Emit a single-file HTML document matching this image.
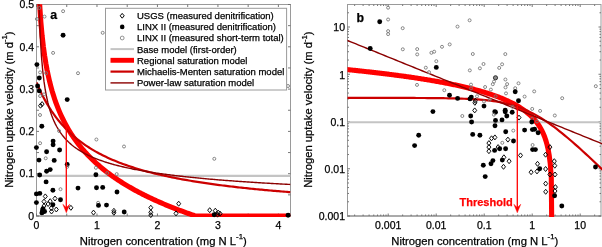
<!DOCTYPE html>
<html><head><meta charset="utf-8"><style>
html,body{margin:0;padding:0;background:#fff;}
svg{display:block;will-change:transform;}
text{stroke:#000;stroke-width:0.25px;}
</style></head><body>
<svg width="602" height="247" viewBox="0 0 602 247"><defs><clipPath id="ca"><rect x="36.5" y="4.2" width="254.0" height="212.8"/></clipPath>
<clipPath id="cb"><rect x="347.5" y="4.2" width="254.5" height="212.8"/></clipPath></defs>
<rect x="36.5" y="4.5" width="254.0" height="211.5" fill="none" stroke="#9a9a9a" stroke-width="1"/><line x1="36.0" y1="216.0" x2="291.0" y2="216.0" stroke="#8a8a8a" stroke-width="1.2"/>
<rect x="347.5" y="4.5" width="253.5" height="211.5" fill="none" stroke="#9a9a9a" stroke-width="1"/><line x1="347.0" y1="216.0" x2="601.5" y2="216.0" stroke="#8a8a8a" stroke-width="1.2"/>
<path d="M36.50,216.00 L36.50,213.50 M36.50,4.50 L36.50,7.00 M66.74,216.00 L66.74,213.50 M66.74,4.50 L66.74,7.00 M96.98,216.00 L96.98,213.50 M96.98,4.50 L96.98,7.00 M127.21,216.00 L127.21,213.50 M127.21,4.50 L127.21,7.00 M157.45,216.00 L157.45,213.50 M157.45,4.50 L157.45,7.00 M187.69,216.00 L187.69,213.50 M187.69,4.50 L187.69,7.00 M217.93,216.00 L217.93,213.50 M217.93,4.50 L217.93,7.00 M248.17,216.00 L248.17,213.50 M248.17,4.50 L248.17,7.00 M278.40,216.00 L278.40,213.50 M278.40,4.50 L278.40,7.00 M36.50,216.00 L39.00,216.00 M290.50,216.00 L288.00,216.00 M36.50,194.85 L39.00,194.85 M290.50,194.85 L288.00,194.85 M36.50,173.70 L39.00,173.70 M290.50,173.70 L288.00,173.70 M36.50,152.55 L39.00,152.55 M290.50,152.55 L288.00,152.55 M36.50,131.40 L39.00,131.40 M290.50,131.40 L288.00,131.40 M36.50,110.25 L39.00,110.25 M290.50,110.25 L288.00,110.25 M36.50,89.10 L39.00,89.10 M290.50,89.10 L288.00,89.10 M36.50,67.95 L39.00,67.95 M290.50,67.95 L288.00,67.95 M36.50,46.80 L39.00,46.80 M290.50,46.80 L288.00,46.80 M36.50,25.65 L39.00,25.65 M290.50,25.65 L288.00,25.65 M36.50,4.50 L39.00,4.50 M290.50,4.50 L288.00,4.50 M354.65,216.00 L354.65,214.50 M354.65,4.50 L354.65,6.00 M363.10,216.00 L363.10,214.50 M363.10,4.50 L363.10,6.00 M369.10,216.00 L369.10,214.50 M369.10,4.50 L369.10,6.00 M373.75,216.00 L373.75,214.50 M373.75,4.50 L373.75,6.00 M377.55,216.00 L377.55,214.50 M377.55,4.50 L377.55,6.00 M380.76,216.00 L380.76,214.50 M380.76,4.50 L380.76,6.00 M383.55,216.00 L383.55,214.50 M383.55,4.50 L383.55,6.00 M386.00,216.00 L386.00,214.50 M386.00,4.50 L386.00,6.00 M388.20,216.00 L388.20,213.50 M388.20,4.50 L388.20,7.00 M402.65,216.00 L402.65,214.50 M402.65,4.50 L402.65,6.00 M411.10,216.00 L411.10,214.50 M411.10,4.50 L411.10,6.00 M417.10,216.00 L417.10,214.50 M417.10,4.50 L417.10,6.00 M421.75,216.00 L421.75,214.50 M421.75,4.50 L421.75,6.00 M425.55,216.00 L425.55,214.50 M425.55,4.50 L425.55,6.00 M428.76,216.00 L428.76,214.50 M428.76,4.50 L428.76,6.00 M431.55,216.00 L431.55,214.50 M431.55,4.50 L431.55,6.00 M434.00,216.00 L434.00,214.50 M434.00,4.50 L434.00,6.00 M436.20,216.00 L436.20,213.50 M436.20,4.50 L436.20,7.00 M450.65,216.00 L450.65,214.50 M450.65,4.50 L450.65,6.00 M459.10,216.00 L459.10,214.50 M459.10,4.50 L459.10,6.00 M465.10,216.00 L465.10,214.50 M465.10,4.50 L465.10,6.00 M469.75,216.00 L469.75,214.50 M469.75,4.50 L469.75,6.00 M473.55,216.00 L473.55,214.50 M473.55,4.50 L473.55,6.00 M476.76,216.00 L476.76,214.50 M476.76,4.50 L476.76,6.00 M479.55,216.00 L479.55,214.50 M479.55,4.50 L479.55,6.00 M482.00,216.00 L482.00,214.50 M482.00,4.50 L482.00,6.00 M484.20,216.00 L484.20,213.50 M484.20,4.50 L484.20,7.00 M498.65,216.00 L498.65,214.50 M498.65,4.50 L498.65,6.00 M507.10,216.00 L507.10,214.50 M507.10,4.50 L507.10,6.00 M513.10,216.00 L513.10,214.50 M513.10,4.50 L513.10,6.00 M517.75,216.00 L517.75,214.50 M517.75,4.50 L517.75,6.00 M521.55,216.00 L521.55,214.50 M521.55,4.50 L521.55,6.00 M524.76,216.00 L524.76,214.50 M524.76,4.50 L524.76,6.00 M527.55,216.00 L527.55,214.50 M527.55,4.50 L527.55,6.00 M530.00,216.00 L530.00,214.50 M530.00,4.50 L530.00,6.00 M532.20,216.00 L532.20,213.50 M532.20,4.50 L532.20,7.00 M546.65,216.00 L546.65,214.50 M546.65,4.50 L546.65,6.00 M555.10,216.00 L555.10,214.50 M555.10,4.50 L555.10,6.00 M561.10,216.00 L561.10,214.50 M561.10,4.50 L561.10,6.00 M565.75,216.00 L565.75,214.50 M565.75,4.50 L565.75,6.00 M569.55,216.00 L569.55,214.50 M569.55,4.50 L569.55,6.00 M572.76,216.00 L572.76,214.50 M572.76,4.50 L572.76,6.00 M575.55,216.00 L575.55,214.50 M575.55,4.50 L575.55,6.00 M578.00,216.00 L578.00,214.50 M578.00,4.50 L578.00,6.00 M580.20,216.00 L580.20,213.50 M580.20,4.50 L580.20,7.00 M594.65,216.00 L594.65,214.50 M594.65,4.50 L594.65,6.00 M347.50,216.00 L350.00,216.00 M601.00,216.00 L598.50,216.00 M347.50,201.78 L349.00,201.78 M601.00,201.78 L599.50,201.78 M347.50,193.46 L349.00,193.46 M601.00,193.46 L599.50,193.46 M347.50,187.55 L349.00,187.55 M601.00,187.55 L599.50,187.55 M347.50,182.97 L349.00,182.97 M601.00,182.97 L599.50,182.97 M347.50,179.23 L349.00,179.23 M601.00,179.23 L599.50,179.23 M347.50,176.07 L349.00,176.07 M601.00,176.07 L599.50,176.07 M347.50,173.33 L349.00,173.33 M601.00,173.33 L599.50,173.33 M347.50,170.91 L349.00,170.91 M601.00,170.91 L599.50,170.91 M347.50,168.75 L350.00,168.75 M601.00,168.75 L598.50,168.75 M347.50,154.53 L349.00,154.53 M601.00,154.53 L599.50,154.53 M347.50,146.21 L349.00,146.21 M601.00,146.21 L599.50,146.21 M347.50,140.30 L349.00,140.30 M601.00,140.30 L599.50,140.30 M347.50,135.72 L349.00,135.72 M601.00,135.72 L599.50,135.72 M347.50,131.98 L349.00,131.98 M601.00,131.98 L599.50,131.98 M347.50,128.82 L349.00,128.82 M601.00,128.82 L599.50,128.82 M347.50,126.08 L349.00,126.08 M601.00,126.08 L599.50,126.08 M347.50,123.66 L349.00,123.66 M601.00,123.66 L599.50,123.66 M347.50,121.50 L350.00,121.50 M601.00,121.50 L598.50,121.50 M347.50,107.28 L349.00,107.28 M601.00,107.28 L599.50,107.28 M347.50,98.96 L349.00,98.96 M601.00,98.96 L599.50,98.96 M347.50,93.05 L349.00,93.05 M601.00,93.05 L599.50,93.05 M347.50,88.47 L349.00,88.47 M601.00,88.47 L599.50,88.47 M347.50,84.73 L349.00,84.73 M601.00,84.73 L599.50,84.73 M347.50,81.57 L349.00,81.57 M601.00,81.57 L599.50,81.57 M347.50,78.83 L349.00,78.83 M601.00,78.83 L599.50,78.83 M347.50,76.41 L349.00,76.41 M601.00,76.41 L599.50,76.41 M347.50,74.25 L350.00,74.25 M601.00,74.25 L598.50,74.25 M347.50,60.03 L349.00,60.03 M601.00,60.03 L599.50,60.03 M347.50,51.71 L349.00,51.71 M601.00,51.71 L599.50,51.71 M347.50,45.80 L349.00,45.80 M601.00,45.80 L599.50,45.80 M347.50,41.22 L349.00,41.22 M601.00,41.22 L599.50,41.22 M347.50,37.48 L349.00,37.48 M601.00,37.48 L599.50,37.48 M347.50,34.32 L349.00,34.32 M601.00,34.32 L599.50,34.32 M347.50,31.58 L349.00,31.58 M601.00,31.58 L599.50,31.58 M347.50,29.16 L349.00,29.16 M601.00,29.16 L599.50,29.16 M347.50,27.00 L350.00,27.00 M601.00,27.00 L598.50,27.00 M347.50,12.78 L349.00,12.78 M601.00,12.78 L599.50,12.78" stroke="#6a6a6a" stroke-width="0.9" fill="none"/>
<g clip-path="url(#ca)"><line x1="36.5" y1="175.90" x2="290.5" y2="175.90" stroke="#c4c4c4" stroke-width="2.1"/><path d="M38.31,-20.00 L39.58,3.35 L40.84,21.87 L42.10,35.63 L43.36,46.58 L44.62,55.67 L45.88,63.45 L47.14,70.25 L48.40,76.28 L49.66,81.71 L50.92,86.64 L52.18,91.16 L53.45,95.32 L54.71,99.19 L55.97,102.80 L57.23,106.18 L58.49,109.37 L59.75,112.37 L61.01,115.22 L62.27,117.92 L63.53,120.49 L64.79,122.95 L66.05,125.30 L67.32,127.55 L68.58,129.71 L69.84,131.79 L71.10,133.79 L72.36,135.72 L73.62,137.58 L74.88,139.38 L76.14,141.13 L77.40,142.81 L78.66,144.45 L79.92,146.04 L81.19,147.58 L82.45,149.08 L83.71,150.54 L84.97,151.96 L86.23,153.34 L87.49,154.69 L88.75,156.01 L90.01,157.29 L91.27,158.55 L92.53,159.78 L93.80,160.97 L95.06,162.15 L96.32,163.30 L97.58,164.42 L98.84,165.52 L100.10,166.60 L101.36,167.66 L102.62,168.70 L103.88,169.71 L105.14,170.71 L106.40,171.69 L107.67,172.66 L108.93,173.60 L110.19,174.53 L111.45,175.45 L112.71,176.35 L113.97,177.23 L115.23,178.10 L116.49,178.96 L117.75,179.80 L119.01,180.63 L120.27,181.45 L121.54,182.25 L122.80,183.05 L124.06,183.83 L125.32,184.60 L126.58,185.36 L127.84,186.11 L129.10,186.85 L130.36,187.58 L131.62,188.29 L132.88,189.00 L134.14,189.70 L135.41,190.40 L136.67,191.08 L137.93,191.75 L139.19,192.42 L140.45,193.08 L141.71,193.73 L142.97,194.37 L144.23,195.00 L145.49,195.63 L146.75,196.25 L148.02,196.86 L149.28,197.47 L150.54,198.07 L151.80,198.66 L153.06,199.25 L154.32,199.83 L155.58,200.40 L156.84,200.97 L158.10,201.53 L159.36,202.09 L160.62,202.64 L161.89,203.18 L163.15,203.72 L164.41,204.25 L165.67,204.78 L166.93,205.31 L168.19,205.82 L169.45,206.34 L170.71,206.85 L171.97,207.35 L173.23,207.85 L174.49,208.34 L175.76,208.83 L177.02,209.32 L178.28,209.80 L179.54,210.28 L180.80,210.75 L182.06,211.22 L183.32,211.69 L184.58,212.15 L185.84,212.60 L187.10,213.06 L188.36,213.51 L189.63,213.95 L190.89,214.39 L192.15,214.83 L193.41,215.27 L194.67,215.70 L195.93,216.00 L197.19,216.00 L198.45,216.00 L199.71,216.00 L200.97,216.00 L202.23,216.00 L203.50,216.00 L204.76,216.00 L206.02,216.00 L207.28,216.00 L208.54,216.00 L209.80,216.00 L211.06,216.00 L212.32,216.00 L213.58,216.00 L214.84,216.00 L216.11,216.00 L217.37,216.00 L218.63,216.00 L219.89,216.00 L221.15,216.00 L222.41,216.00 L223.67,216.00 L224.93,216.00 L226.19,216.00 L227.45,216.00 L228.71,216.00 L229.98,216.00 L231.24,216.00 L232.50,216.00 L233.76,216.00 L235.02,216.00 L236.28,216.00 L237.54,216.00 L238.80,216.00 L240.06,216.00 L241.32,216.00 L242.58,216.00 L243.85,216.00 L245.11,216.00 L246.37,216.00 L247.63,216.00 L248.89,216.00 L250.15,216.00 L251.41,216.00 L252.67,216.00 L253.93,216.00 L255.19,216.00 L256.45,216.00 L257.72,216.00 L258.98,216.00 L260.24,216.00 L261.50,216.00 L262.76,216.00 L264.02,216.00 L265.28,216.00 L266.54,216.00 L267.80,216.00 L269.06,216.00 L270.33,216.00 L271.59,216.00 L272.85,216.00 L274.11,216.00 L275.37,216.00 L276.63,216.00 L277.89,216.00 L279.15,216.00 L280.41,216.00 L281.67,216.00 L282.93,216.00 L284.20,216.00 L285.46,216.00 L286.72,216.00 L287.98,216.00 L289.24,216.00 L290.50,216.00" fill="none" stroke="#ff0000" stroke-width="5.1" stroke-linejoin="round"/><path d="M36.50,82.32 L38.19,86.30 L39.89,90.06 L41.58,93.60 L43.27,96.95 L44.97,100.12 L46.66,103.13 L48.35,105.98 L50.05,108.69 L51.74,111.28 L53.43,113.74 L55.13,116.09 L56.82,118.33 L58.51,120.47 L60.21,122.53 L61.90,124.49 L63.59,126.38 L65.29,128.19 L66.98,129.92 L68.67,131.59 L70.37,133.20 L72.06,134.75 L73.75,136.24 L75.45,137.67 L77.14,139.06 L78.83,140.39 L80.53,141.69 L82.22,142.93 L83.91,144.14 L85.61,145.31 L87.30,146.44 L88.99,147.53 L90.69,148.59 L92.38,149.62 L94.07,150.62 L95.77,151.59 L97.46,152.53 L99.15,153.44 L100.85,154.33 L102.54,155.19 L104.23,156.03 L105.93,156.84 L107.62,157.64 L109.31,158.41 L111.01,159.16 L112.70,159.89 L114.39,160.61 L116.09,161.30 L117.78,161.98 L119.47,162.65 L121.17,163.29 L122.86,163.92 L124.55,164.54 L126.25,165.14 L127.94,165.73 L129.63,166.30 L131.33,166.86 L133.02,167.41 L134.71,167.95 L136.41,168.47 L138.10,168.99 L139.79,169.49 L141.49,169.98 L143.18,170.46 L144.87,170.94 L146.57,171.40 L148.26,171.85 L149.95,172.29 L151.65,172.73 L153.34,173.15 L155.03,173.57 L156.73,173.98 L158.42,174.38 L160.11,174.78 L161.81,175.16 L163.50,175.54 L165.19,175.92 L166.89,176.28 L168.58,176.64 L170.27,177.00 L171.97,177.34 L173.66,177.68 L175.35,178.02 L177.05,178.35 L178.74,178.67 L180.43,178.99 L182.13,179.30 L183.82,179.61 L185.51,179.91 L187.21,180.20 L188.90,180.50 L190.59,180.78 L192.29,181.07 L193.98,181.34 L195.67,181.62 L197.37,181.89 L199.06,182.15 L200.75,182.41 L202.45,182.67 L204.14,182.93 L205.83,183.17 L207.53,183.42 L209.22,183.66 L210.91,183.90 L212.61,184.14 L214.30,184.37 L215.99,184.60 L217.69,184.82 L219.38,185.04 L221.07,185.26 L222.77,185.48 L224.46,185.69 L226.15,185.90 L227.85,186.11 L229.54,186.31 L231.23,186.51 L232.93,186.71 L234.62,186.91 L236.31,187.10 L238.01,187.29 L239.70,187.48 L241.39,187.66 L243.09,187.85 L244.78,188.03 L246.47,188.21 L248.17,188.38 L249.86,188.56 L251.55,188.73 L253.25,188.90 L254.94,189.07 L256.63,189.23 L258.33,189.40 L260.02,189.56 L261.71,189.72 L263.41,189.88 L265.10,190.03 L266.79,190.19 L268.49,190.34 L270.18,190.49 L271.87,190.64 L273.57,190.78 L275.26,190.93 L276.95,191.07 L278.65,191.22 L280.34,191.36 L282.03,191.49 L283.73,191.63 L285.42,191.77 L287.11,191.90 L288.81,192.03 L290.50,192.17" fill="none" stroke="#cc0000" stroke-width="2.2"/><path d="M37.71,-20.00 L38.97,3.50 L40.24,36.73 L41.50,57.01 L42.77,71.10 L44.03,81.67 L45.29,89.99 L46.56,96.77 L47.82,102.45 L49.09,107.29 L50.35,111.50 L51.61,115.19 L52.88,118.47 L54.14,121.41 L55.40,124.07 L56.67,126.49 L57.93,128.70 L59.20,130.74 L60.46,132.62 L61.72,134.37 L62.99,136.00 L64.25,137.52 L65.52,138.95 L66.78,140.29 L68.04,141.55 L69.31,142.75 L70.57,143.88 L71.84,144.96 L73.10,145.98 L74.36,146.95 L75.63,147.88 L76.89,148.76 L78.16,149.61 L79.42,150.42 L80.68,151.20 L81.95,151.95 L83.21,152.67 L84.48,153.36 L85.74,154.03 L87.00,154.68 L88.27,155.30 L89.53,155.90 L90.80,156.48 L92.06,157.04 L93.32,157.58 L94.59,158.11 L95.85,158.62 L97.12,159.12 L98.38,159.60 L99.64,160.07 L100.91,160.52 L102.17,160.96 L103.44,161.40 L104.70,161.81 L105.96,162.22 L107.23,162.62 L108.49,163.01 L109.75,163.39 L111.02,163.76 L112.28,164.12 L113.55,164.47 L114.81,164.81 L116.07,165.15 L117.34,165.48 L118.60,165.80 L119.87,166.12 L121.13,166.43 L122.39,166.73 L123.66,167.02 L124.92,167.31 L126.19,167.60 L127.45,167.87 L128.71,168.15 L129.98,168.42 L131.24,168.68 L132.51,168.94 L133.77,169.19 L135.03,169.44 L136.30,169.68 L137.56,169.92 L138.83,170.16 L140.09,170.39 L141.35,170.61 L142.62,170.84 L143.88,171.06 L145.15,171.27 L146.41,171.49 L147.67,171.70 L148.94,171.90 L150.20,172.10 L151.47,172.30 L152.73,172.50 L153.99,172.69 L155.26,172.88 L156.52,173.07 L157.79,173.26 L159.05,173.44 L160.31,173.62 L161.58,173.80 L162.84,173.97 L164.10,174.14 L165.37,174.31 L166.63,174.48 L167.90,174.64 L169.16,174.81 L170.42,174.97 L171.69,175.13 L172.95,175.28 L174.22,175.44 L175.48,175.59 L176.74,175.74 L178.01,175.89 L179.27,176.03 L180.54,176.18 L181.80,176.32 L183.06,176.46 L184.33,176.60 L185.59,176.74 L186.86,176.88 L188.12,177.01 L189.38,177.15 L190.65,177.28 L191.91,177.41 L193.18,177.54 L194.44,177.66 L195.70,177.79 L196.97,177.91 L198.23,178.04 L199.50,178.16 L200.76,178.28 L202.02,178.40 L203.29,178.51 L204.55,178.63 L205.82,178.75 L207.08,178.86 L208.34,178.97 L209.61,179.08 L210.87,179.19 L212.13,179.30 L213.40,179.41 L214.66,179.52 L215.93,179.63 L217.19,179.73 L218.45,179.83 L219.72,179.94 L220.98,180.04 L222.25,180.14 L223.51,180.24 L224.77,180.34 L226.04,180.44 L227.30,180.54 L228.57,180.63 L229.83,180.73 L231.09,180.82 L232.36,180.92 L233.62,181.01 L234.89,181.10 L236.15,181.19 L237.41,181.28 L238.68,181.37 L239.94,181.46 L241.21,181.55 L242.47,181.64 L243.73,181.72 L245.00,181.81 L246.26,181.89 L247.53,181.98 L248.79,182.06 L250.05,182.14 L251.32,182.23 L252.58,182.31 L253.85,182.39 L255.11,182.47 L256.37,182.55 L257.64,182.63 L258.90,182.71 L260.17,182.78 L261.43,182.86 L262.69,182.94 L263.96,183.01 L265.22,183.09 L266.48,183.16 L267.75,183.24 L269.01,183.31 L270.28,183.38 L271.54,183.45 L272.80,183.53 L274.07,183.60 L275.33,183.67 L276.60,183.74 L277.86,183.81 L279.12,183.88 L280.39,183.95 L281.65,184.01 L282.92,184.08 L284.18,184.15 L285.44,184.22 L286.71,184.28 L287.97,184.35 L289.24,184.41 L290.50,184.48" fill="none" stroke="#8b0000" stroke-width="1.4"/></g><g fill="#000"><circle cx="39.3" cy="8.0" r="1.5" fill="none" stroke="#7a7a7a" stroke-width="0.9"/><circle cx="44.5" cy="16.6" r="1.5" fill="none" stroke="#7a7a7a" stroke-width="0.9"/><circle cx="36.9" cy="19.0" r="1.5" fill="none" stroke="#7a7a7a" stroke-width="0.9"/><circle cx="63.1" cy="11.2" r="1.5" fill="none" stroke="#7a7a7a" stroke-width="0.9"/><circle cx="63.1" cy="35.2" r="2.45"/><circle cx="53.1" cy="52.9" r="1.5" fill="none" stroke="#7a7a7a" stroke-width="0.9"/><circle cx="36.9" cy="64.6" r="2.45"/><circle cx="40.1" cy="72.4" r="1.5" fill="none" stroke="#7a7a7a" stroke-width="0.9"/><circle cx="46.1" cy="73.2" r="1.5" fill="none" stroke="#7a7a7a" stroke-width="0.9"/><circle cx="78.0" cy="73.2" r="1.5" fill="none" stroke="#7a7a7a" stroke-width="0.9"/><circle cx="102.7" cy="32.8" r="1.5" fill="none" stroke="#7a7a7a" stroke-width="0.9"/><circle cx="39.3" cy="78.0" r="2.45"/><circle cx="37.6" cy="86.0" r="2.45"/><circle cx="39.3" cy="90.9" r="2.45"/><circle cx="40.1" cy="96.0" r="1.5" fill="none" stroke="#7a7a7a" stroke-width="0.9"/><circle cx="44.0" cy="94.4" r="1.5" fill="none" stroke="#7a7a7a" stroke-width="0.9"/><circle cx="67.2" cy="99.6" r="2.45"/><path d="M40.5,103.2l2.0,2.5l-2.0,2.5l-2.0,-2.5z" fill="none" stroke="#000" stroke-width="0.95"/><path d="M42.1,101.6l2.0,2.5l-2.0,2.5l-2.0,-2.5z" fill="none" stroke="#000" stroke-width="0.95"/><circle cx="40.0" cy="115.0" r="1.5" fill="none" stroke="#7a7a7a" stroke-width="0.9"/><circle cx="41.8" cy="126.2" r="2.45"/><circle cx="59.1" cy="131.0" r="1.5" fill="none" stroke="#7a7a7a" stroke-width="0.9"/><circle cx="40.1" cy="143.2" r="1.5" fill="none" stroke="#7a7a7a" stroke-width="0.9"/><circle cx="53.1" cy="141.1" r="2.45"/><circle cx="53.1" cy="144.8" r="2.45"/><circle cx="36.4" cy="147.6" r="2.45"/><circle cx="59.6" cy="150.0" r="2.45"/><circle cx="46.6" cy="151.8" r="2.45"/><circle cx="45.7" cy="158.3" r="1.5" fill="none" stroke="#7a7a7a" stroke-width="0.9"/><circle cx="39.0" cy="160.1" r="2.45"/><circle cx="54.2" cy="160.4" r="2.45"/><circle cx="67.2" cy="164.4" r="2.45"/><circle cx="67.2" cy="166.8" r="1.5" fill="none" stroke="#7a7a7a" stroke-width="0.9"/><circle cx="50.2" cy="169.6" r="2.45"/><circle cx="46.6" cy="171.2" r="2.45"/><circle cx="39.7" cy="175.0" r="2.45"/><circle cx="46.1" cy="181.9" r="2.45"/><circle cx="60.5" cy="189.2" r="1.5" fill="none" stroke="#7a7a7a" stroke-width="0.9"/><circle cx="52.9" cy="190.2" r="2.45"/><circle cx="78.0" cy="188.1" r="2.45"/><circle cx="36.4" cy="193.9" r="2.45"/><circle cx="39.8" cy="193.4" r="2.45"/><path d="M45.3,193.9l2.0,2.5l-2.0,2.5l-2.0,-2.5z" fill="none" stroke="#000" stroke-width="0.95"/><path d="M55.0,196.0l2.0,2.5l-2.0,2.5l-2.0,-2.5z" fill="none" stroke="#000" stroke-width="0.95"/><circle cx="60.5" cy="199.8" r="2.45"/><circle cx="36.4" cy="202.6" r="2.45"/><path d="M44.0,199.1l2.0,2.5l-2.0,2.5l-2.0,-2.5z" fill="none" stroke="#000" stroke-width="0.95"/><path d="M50.2,198.7l2.0,2.5l-2.0,2.5l-2.0,-2.5z" fill="none" stroke="#000" stroke-width="0.95"/><path d="M48.1,201.5l2.0,2.5l-2.0,2.5l-2.0,-2.5z" fill="none" stroke="#000" stroke-width="0.95"/><circle cx="52.9" cy="204.7" r="2.45"/><path d="M44.0,203.5l2.0,2.5l-2.0,2.5l-2.0,-2.5z" fill="none" stroke="#000" stroke-width="0.95"/><path d="M51.3,205.6l2.0,2.5l-2.0,2.5l-2.0,-2.5z" fill="none" stroke="#000" stroke-width="0.95"/><path d="M56.3,207.0l2.0,2.5l-2.0,2.5l-2.0,-2.5z" fill="none" stroke="#000" stroke-width="0.95"/><path d="M51.5,209.0l2.0,2.5l-2.0,2.5l-2.0,-2.5z" fill="none" stroke="#000" stroke-width="0.95"/><circle cx="42.6" cy="210.2" r="2.45"/><circle cx="41.9" cy="212.9" r="2.45"/><circle cx="44.6" cy="211.5" r="2.45"/><circle cx="43.0" cy="208.8" r="2.45"/><path d="M70.9,205.3l2.0,2.5l-2.0,2.5l-2.0,-2.5z" fill="none" stroke="#000" stroke-width="0.95"/><circle cx="96.4" cy="139.5" r="1.5" fill="none" stroke="#7a7a7a" stroke-width="0.9"/><circle cx="124.0" cy="146.5" r="1.5" fill="none" stroke="#7a7a7a" stroke-width="0.9"/><circle cx="95.9" cy="167.8" r="1.5" fill="none" stroke="#7a7a7a" stroke-width="0.9"/><circle cx="107.2" cy="173.1" r="1.5" fill="none" stroke="#7a7a7a" stroke-width="0.9"/><circle cx="116.7" cy="174.1" r="1.5" fill="none" stroke="#7a7a7a" stroke-width="0.9"/><circle cx="95.9" cy="174.7" r="2.45"/><circle cx="96.5" cy="187.7" r="2.45"/><circle cx="102.7" cy="187.4" r="2.45"/><circle cx="117.0" cy="192.0" r="2.45"/><circle cx="98.1" cy="202.8" r="1.5" fill="none" stroke="#7a7a7a" stroke-width="0.9"/><circle cx="98.5" cy="205.4" r="2.45"/><circle cx="106.5" cy="205.1" r="2.45"/><path d="M93.5,210.1l2.0,2.5l-2.0,2.5l-2.0,-2.5z" fill="none" stroke="#000" stroke-width="0.95"/><path d="M113.9,208.3l2.0,2.5l-2.0,2.5l-2.0,-2.5z" fill="none" stroke="#000" stroke-width="0.95"/><path d="M113.9,210.3l2.0,2.5l-2.0,2.5l-2.0,-2.5z" fill="none" stroke="#000" stroke-width="0.95"/><circle cx="124.2" cy="212.0" r="2.45"/><path d="M150.8,205.2l2.0,2.5l-2.0,2.5l-2.0,-2.5z" fill="none" stroke="#000" stroke-width="0.95"/><path d="M150.8,209.8l2.0,2.5l-2.0,2.5l-2.0,-2.5z" fill="none" stroke="#000" stroke-width="0.95"/><path d="M150.8,212.6l2.0,2.5l-2.0,2.5l-2.0,-2.5z" fill="none" stroke="#000" stroke-width="0.95"/><circle cx="214.3" cy="158.8" r="1.5" fill="none" stroke="#7a7a7a" stroke-width="0.9"/><path d="M178.7,201.2l2.0,2.5l-2.0,2.5l-2.0,-2.5z" fill="none" stroke="#000" stroke-width="0.95"/><path d="M176.0,210.9l2.0,2.5l-2.0,2.5l-2.0,-2.5z" fill="none" stroke="#000" stroke-width="0.95"/><path d="M209.7,207.7l2.0,2.5l-2.0,2.5l-2.0,-2.5z" fill="none" stroke="#000" stroke-width="0.95"/><path d="M215.3,208.2l2.0,2.5l-2.0,2.5l-2.0,-2.5z" fill="none" stroke="#000" stroke-width="0.95"/><path d="M218.3,210.2l2.0,2.5l-2.0,2.5l-2.0,-2.5z" fill="none" stroke="#000" stroke-width="0.95"/><path d="M220.1,211.2l2.0,2.5l-2.0,2.5l-2.0,-2.5z" fill="none" stroke="#000" stroke-width="0.95"/><path d="M217.5,212.2l2.0,2.5l-2.0,2.5l-2.0,-2.5z" fill="none" stroke="#000" stroke-width="0.95"/><circle cx="214.2" cy="214.7" r="2.45"/><circle cx="288.1" cy="215.3" r="2.45"/><circle cx="288.0" cy="86.0" r="1.5" fill="none" stroke="#7a7a7a" stroke-width="0.9"/></g>
<g clip-path="url(#cb)"><line x1="347.5" y1="122.30" x2="601.0" y2="122.30" stroke="#c4c4c4" stroke-width="2.1"/><path d="M340.20,68.92 L341.26,69.02 L342.32,69.13 L343.38,69.23 L344.44,69.33 L345.50,69.44 L346.56,69.54 L347.63,69.65 L348.69,69.76 L349.75,69.86 L350.81,69.97 L351.87,70.08 L352.93,70.19 L353.99,70.30 L355.05,70.41 L356.11,70.52 L357.17,70.63 L358.23,70.74 L359.29,70.86 L360.35,70.97 L361.42,71.08 L362.48,71.20 L363.54,71.31 L364.60,71.43 L365.66,71.54 L366.72,71.66 L367.78,71.78 L368.84,71.90 L369.90,72.01 L370.96,72.13 L372.02,72.25 L373.08,72.38 L374.14,72.50 L375.21,72.62 L376.27,72.74 L377.33,72.87 L378.39,72.99 L379.45,73.12 L380.51,73.24 L381.57,73.37 L382.63,73.50 L383.69,73.63 L384.75,73.76 L385.81,73.89 L386.87,74.02 L387.93,74.15 L389.00,74.28 L390.06,74.42 L391.12,74.55 L392.18,74.69 L393.24,74.82 L394.30,74.96 L395.36,75.10 L396.42,75.24 L397.48,75.38 L398.54,75.52 L399.60,75.66 L400.66,75.80 L401.73,75.95 L402.79,76.09 L403.85,76.24 L404.91,76.39 L405.97,76.53 L407.03,76.68 L408.09,76.83 L409.15,76.99 L410.21,77.14 L411.27,77.29 L412.33,77.45 L413.39,77.60 L414.45,77.76 L415.52,77.92 L416.58,78.08 L417.64,78.24 L418.70,78.40 L419.76,78.56 L420.82,78.73 L421.88,78.90 L422.94,79.06 L424.00,79.23 L425.06,79.40 L426.12,79.57 L427.18,79.75 L428.24,79.92 L429.31,80.10 L430.37,80.28 L431.43,80.45 L432.49,80.64 L433.55,80.82 L434.61,81.00 L435.67,81.19 L436.73,81.37 L437.79,81.56 L438.85,81.75 L439.91,81.95 L440.97,82.14 L442.03,82.34 L443.10,82.54 L444.16,82.74 L445.22,82.94 L446.28,83.14 L447.34,83.35 L448.40,83.56 L449.46,83.77 L450.52,83.98 L451.58,84.20 L452.64,84.41 L453.70,84.63 L454.76,84.85 L455.82,85.08 L456.89,85.31 L457.95,85.53 L459.01,85.77 L460.07,86.00 L461.13,86.24 L462.19,86.48 L463.25,86.72 L464.31,86.97 L465.37,87.22 L466.43,87.47 L467.49,87.72 L468.55,87.98 L469.61,88.24 L470.68,88.51 L471.74,88.77 L472.80,89.05 L473.86,89.32 L474.92,89.60 L475.98,89.88 L477.04,90.17 L478.10,90.46 L479.16,90.76 L480.22,91.06 L481.28,91.36 L482.34,91.67 L483.40,91.98 L484.47,92.30 L485.53,92.62 L486.59,92.95 L487.65,93.29 L488.71,93.63 L489.77,93.97 L490.83,94.32 L491.89,94.68 L492.95,95.04 L494.01,95.41 L495.07,95.79 L496.13,96.17 L497.19,96.56 L498.26,96.96 L499.32,97.37 L500.38,97.78 L501.44,98.20 L502.50,98.64 L503.56,99.08 L504.62,99.53 L505.68,99.99 L506.74,100.46 L507.80,100.94 L508.86,101.44 L509.92,101.94 L510.98,102.46 L512.05,103.00 L513.11,103.54 L514.17,104.11 L515.23,104.68 L516.29,105.28 L517.35,105.89 L518.41,106.52 L519.47,107.17 L520.53,107.85 L521.59,108.54 L522.65,109.26 L523.71,110.01 L524.78,110.78 L525.84,111.59 L526.90,112.43 L527.96,113.30 L529.02,114.21 L530.08,115.17 L531.14,116.17 L532.20,117.22 L533.26,118.33 L534.32,119.50 L535.38,120.74 L536.44,122.07 L537.50,123.48 L538.57,125.00 L539.63,126.65 L540.69,128.43 L541.75,130.39 L542.81,132.55 L543.87,134.96 L544.93,137.70 L545.99,140.86 L547.05,144.60 L548.11,149.18 L549.17,155.08 L550.23,163.38 L551.29,177.57 L552.36,293.76 L552.36,260.00" fill="none" stroke="#ff0000" stroke-width="5.1" stroke-linejoin="round"/><path d="M340.20,97.89 L342.84,97.89 L345.48,97.89 L348.12,97.89 L350.76,97.89 L353.40,97.89 L356.04,97.89 L358.68,97.89 L361.32,97.89 L363.96,97.89 L366.60,97.90 L369.24,97.90 L371.88,97.90 L374.52,97.90 L377.16,97.90 L379.80,97.90 L382.44,97.90 L385.08,97.91 L387.72,97.91 L390.36,97.91 L393.00,97.92 L395.64,97.92 L398.28,97.92 L400.92,97.93 L403.56,97.93 L406.20,97.94 L408.84,97.95 L411.48,97.96 L414.12,97.97 L416.76,97.98 L419.40,97.99 L422.04,98.00 L424.68,98.02 L427.32,98.03 L429.96,98.05 L432.60,98.08 L435.24,98.10 L437.88,98.13 L440.52,98.16 L443.16,98.20 L445.80,98.24 L448.44,98.29 L451.08,98.34 L453.72,98.40 L456.36,98.47 L459.00,98.55 L461.64,98.64 L464.28,98.74 L466.92,98.85 L469.56,98.97 L472.20,99.12 L474.84,99.28 L477.48,99.46 L480.12,99.66 L482.76,99.89 L485.40,100.14 L488.04,100.43 L490.68,100.75 L493.32,101.11 L495.96,101.51 L498.60,101.95 L501.24,102.44 L503.88,102.99 L506.52,103.59 L509.16,104.25 L511.80,104.97 L514.44,105.77 L517.08,106.63 L519.72,107.57 L522.36,108.59 L525.00,109.68 L527.64,110.86 L530.28,112.12 L532.92,113.46 L535.56,114.88 L538.20,116.39 L540.84,117.97 L543.48,119.63 L546.12,121.37 L548.76,123.17 L551.40,125.05 L554.04,126.98 L556.68,128.98 L559.32,131.04 L561.96,133.15 L564.60,135.30 L567.24,137.50 L569.88,139.74 L572.52,142.02 L575.16,144.34 L577.80,146.68 L580.44,149.05 L583.08,151.45 L585.72,153.86 L588.36,156.30 L591.00,158.76 L593.64,161.23 L596.28,163.72 L598.92,166.22 L601.56,168.73 L604.20,171.25" fill="none" stroke="#cc0000" stroke-width="2.2"/><path d="M340.20,37.53 L342.84,38.61 L345.48,39.68 L348.12,40.75 L350.76,41.82 L353.40,42.89 L356.04,43.96 L358.68,45.03 L361.32,46.10 L363.96,47.17 L366.60,48.24 L369.24,49.31 L371.88,50.38 L374.52,51.45 L377.16,52.52 L379.80,53.59 L382.44,54.67 L385.08,55.74 L387.72,56.81 L390.36,57.88 L393.00,58.95 L395.64,60.02 L398.28,61.09 L400.92,62.16 L403.56,63.23 L406.20,64.30 L408.84,65.37 L411.48,66.44 L414.12,67.51 L416.76,68.58 L419.40,69.66 L422.04,70.73 L424.68,71.80 L427.32,72.87 L429.96,73.94 L432.60,75.01 L435.24,76.08 L437.88,77.15 L440.52,78.22 L443.16,79.29 L445.80,80.36 L448.44,81.43 L451.08,82.50 L453.72,83.57 L456.36,84.64 L459.00,85.72 L461.64,86.79 L464.28,87.86 L466.92,88.93 L469.56,90.00 L472.20,91.07 L474.84,92.14 L477.48,93.21 L480.12,94.28 L482.76,95.35 L485.40,96.42 L488.04,97.49 L490.68,98.56 L493.32,99.63 L495.96,100.71 L498.60,101.78 L501.24,102.85 L503.88,103.92 L506.52,104.99 L509.16,106.06 L511.80,107.13 L514.44,108.20 L517.08,109.27 L519.72,110.34 L522.36,111.41 L525.00,112.48 L527.64,113.55 L530.28,114.62 L532.92,115.69 L535.56,116.77 L538.20,117.84 L540.84,118.91 L543.48,119.98 L546.12,121.05 L548.76,122.12 L551.40,123.19 L554.04,124.26 L556.68,125.33 L559.32,126.40 L561.96,127.47 L564.60,128.54 L567.24,129.61 L569.88,130.68 L572.52,131.75 L575.16,132.83 L577.80,133.90 L580.44,134.97 L583.08,136.04 L585.72,137.11 L588.36,138.18 L591.00,139.25 L593.64,140.32 L596.28,141.39 L598.92,142.46 L601.56,143.53 L604.20,144.60" fill="none" stroke="#8b0000" stroke-width="1.4"/></g><g fill="#000"><circle cx="388.1" cy="7.7" r="1.5" fill="none" stroke="#7a7a7a" stroke-width="0.9"/><circle cx="388.1" cy="19.5" r="1.5" fill="none" stroke="#7a7a7a" stroke-width="0.9"/><circle cx="379.7" cy="21.8" r="2.45"/><circle cx="402.7" cy="28.2" r="1.5" fill="none" stroke="#7a7a7a" stroke-width="0.9"/><circle cx="388.1" cy="31.1" r="1.5" fill="none" stroke="#7a7a7a" stroke-width="0.9"/><circle cx="388.1" cy="34.1" r="1.5" fill="none" stroke="#7a7a7a" stroke-width="0.9"/><circle cx="370.2" cy="48.5" r="2.45"/><circle cx="402.8" cy="49.3" r="1.5" fill="none" stroke="#7a7a7a" stroke-width="0.9"/><circle cx="417.2" cy="49.1" r="1.5" fill="none" stroke="#7a7a7a" stroke-width="0.9"/><circle cx="417.2" cy="54.4" r="1.5" fill="none" stroke="#7a7a7a" stroke-width="0.9"/><circle cx="431.4" cy="52.8" r="1.5" fill="none" stroke="#7a7a7a" stroke-width="0.9"/><circle cx="434.2" cy="51.7" r="1.5" fill="none" stroke="#7a7a7a" stroke-width="0.9"/><circle cx="442.0" cy="46.8" r="1.5" fill="none" stroke="#7a7a7a" stroke-width="0.9"/><circle cx="449.7" cy="44.4" r="1.5" fill="none" stroke="#7a7a7a" stroke-width="0.9"/><circle cx="457.5" cy="26.6" r="1.5" fill="none" stroke="#7a7a7a" stroke-width="0.9"/><circle cx="469.6" cy="20.3" r="1.5" fill="none" stroke="#7a7a7a" stroke-width="0.9"/><circle cx="472.8" cy="54.0" r="1.5" fill="none" stroke="#7a7a7a" stroke-width="0.9"/><circle cx="505.3" cy="54.1" r="1.5" fill="none" stroke="#7a7a7a" stroke-width="0.9"/><circle cx="483.5" cy="64.0" r="1.5" fill="none" stroke="#7a7a7a" stroke-width="0.9"/><circle cx="479.9" cy="68.3" r="1.5" fill="none" stroke="#7a7a7a" stroke-width="0.9"/><circle cx="469.8" cy="70.4" r="1.5" fill="none" stroke="#7a7a7a" stroke-width="0.9"/><circle cx="502.1" cy="64.3" r="1.5" fill="none" stroke="#7a7a7a" stroke-width="0.9"/><circle cx="499.2" cy="67.9" r="1.5" fill="none" stroke="#7a7a7a" stroke-width="0.9"/><circle cx="436.3" cy="61.2" r="1.5" fill="none" stroke="#7a7a7a" stroke-width="0.9"/><circle cx="436.3" cy="67.4" r="2.45"/><circle cx="425.8" cy="67.7" r="1.5" fill="none" stroke="#7a7a7a" stroke-width="0.9"/><circle cx="429.0" cy="72.2" r="1.5" fill="none" stroke="#7a7a7a" stroke-width="0.9"/><circle cx="495.5" cy="77.8" r="2.1" fill="#888" stroke="#222" stroke-width="0.9"/><circle cx="505.4" cy="79.5" r="1.5" fill="none" stroke="#7a7a7a" stroke-width="0.9"/><circle cx="417.0" cy="84.9" r="1.5" fill="none" stroke="#7a7a7a" stroke-width="0.9"/><circle cx="494.0" cy="81.6" r="1.5" fill="none" stroke="#7a7a7a" stroke-width="0.9"/><circle cx="492.8" cy="84.2" r="1.5" fill="none" stroke="#7a7a7a" stroke-width="0.9"/><circle cx="471.0" cy="84.6" r="1.5" fill="none" stroke="#7a7a7a" stroke-width="0.9"/><circle cx="471.0" cy="88.4" r="1.5" fill="none" stroke="#7a7a7a" stroke-width="0.9"/><circle cx="485.1" cy="87.0" r="1.5" fill="none" stroke="#7a7a7a" stroke-width="0.9"/><circle cx="490.9" cy="89.6" r="1.5" fill="none" stroke="#7a7a7a" stroke-width="0.9"/><circle cx="444.3" cy="90.2" r="1.5" fill="none" stroke="#7a7a7a" stroke-width="0.9"/><circle cx="477.0" cy="96.3" r="1.5" fill="none" stroke="#7a7a7a" stroke-width="0.9"/><circle cx="495.6" cy="96.3" r="1.5" fill="none" stroke="#7a7a7a" stroke-width="0.9"/><circle cx="449.5" cy="95.3" r="2.45"/><circle cx="457.6" cy="98.4" r="2.45"/><circle cx="471.3" cy="97.1" r="2.45"/><circle cx="470.0" cy="98.9" r="2.45"/><circle cx="489.7" cy="99.7" r="1.5" fill="none" stroke="#7a7a7a" stroke-width="0.9"/><path d="M475.3,98.3l2.0,2.5l-2.0,2.5l-2.0,-2.5z" fill="none" stroke="#000" stroke-width="0.95"/><path d="M474.9,100.3l2.0,2.5l-2.0,2.5l-2.0,-2.5z" fill="none" stroke="#000" stroke-width="0.95"/><circle cx="484.0" cy="101.5" r="1.5" fill="none" stroke="#7a7a7a" stroke-width="0.9"/><circle cx="484.0" cy="106.1" r="2.45"/><path d="M474.7,107.9l2.0,2.5l-2.0,2.5l-2.0,-2.5z" fill="none" stroke="#000" stroke-width="0.95"/><circle cx="494.8" cy="111.8" r="2.45"/><circle cx="507.1" cy="84.1" r="1.5" fill="none" stroke="#7a7a7a" stroke-width="0.9"/><circle cx="505.5" cy="87.4" r="1.5" fill="none" stroke="#7a7a7a" stroke-width="0.9"/><circle cx="518.5" cy="83.3" r="1.5" fill="none" stroke="#7a7a7a" stroke-width="0.9"/><circle cx="515.2" cy="88.2" r="1.5" fill="none" stroke="#7a7a7a" stroke-width="0.9"/><circle cx="515.2" cy="91.7" r="2.45"/><circle cx="506.0" cy="93.4" r="1.5" fill="none" stroke="#7a7a7a" stroke-width="0.9"/><circle cx="534.2" cy="91.4" r="1.5" fill="none" stroke="#7a7a7a" stroke-width="0.9"/><circle cx="524.6" cy="96.6" r="1.5" fill="none" stroke="#7a7a7a" stroke-width="0.9"/><circle cx="518.5" cy="100.8" r="2.45"/><circle cx="512.5" cy="106.8" r="1.5" fill="none" stroke="#7a7a7a" stroke-width="0.9"/><circle cx="532.2" cy="108.9" r="1.5" fill="none" stroke="#7a7a7a" stroke-width="0.9"/><circle cx="540.1" cy="110.9" r="1.5" fill="none" stroke="#7a7a7a" stroke-width="0.9"/><circle cx="505.2" cy="110.2" r="2.45"/><circle cx="505.2" cy="111.8" r="2.45"/><circle cx="512.2" cy="112.3" r="2.45"/><circle cx="595.8" cy="86.2" r="1.5" fill="none" stroke="#7a7a7a" stroke-width="0.9"/><circle cx="562.2" cy="98.2" r="1.5" fill="none" stroke="#7a7a7a" stroke-width="0.9"/><circle cx="432.9" cy="111.6" r="2.45"/><circle cx="418.7" cy="135.3" r="2.45"/><circle cx="414.6" cy="145.6" r="2.45"/><circle cx="462.3" cy="116.0" r="1.5" fill="none" stroke="#7a7a7a" stroke-width="0.9"/><circle cx="470.7" cy="116.0" r="2.45"/><circle cx="471.6" cy="122.0" r="2.45"/><circle cx="472.7" cy="134.4" r="2.45"/><circle cx="479.9" cy="135.3" r="2.45"/><circle cx="495.5" cy="112.3" r="2.45"/><circle cx="493.9" cy="114.7" r="1.5" fill="none" stroke="#7a7a7a" stroke-width="0.9"/><circle cx="506.8" cy="116.0" r="2.45"/><circle cx="495.5" cy="120.4" r="2.45"/><circle cx="502.0" cy="119.9" r="2.45"/><circle cx="495.0" cy="125.7" r="2.45"/><path d="M519.0,115.1l2.0,2.5l-2.0,2.5l-2.0,-2.5z" fill="none" stroke="#000" stroke-width="0.95"/><circle cx="532.1" cy="118.8" r="1.5" fill="none" stroke="#7a7a7a" stroke-width="0.9"/><circle cx="531.8" cy="122.0" r="2.45"/><circle cx="537.0" cy="121.5" r="1.5" fill="none" stroke="#7a7a7a" stroke-width="0.9"/><circle cx="554.8" cy="115.5" r="1.5" fill="none" stroke="#7a7a7a" stroke-width="0.9"/><circle cx="524.6" cy="130.1" r="2.45"/><circle cx="532.4" cy="129.6" r="2.45"/><circle cx="534.6" cy="129.3" r="2.45"/><circle cx="538.1" cy="132.8" r="2.45"/><circle cx="513.3" cy="130.6" r="1.5" fill="none" stroke="#7a7a7a" stroke-width="0.9"/><circle cx="505.7" cy="131.7" r="2.45"/><path d="M491.5,135.8l2.0,2.5l-2.0,2.5l-2.0,-2.5z" fill="none" stroke="#000" stroke-width="0.95"/><path d="M494.9,134.9l2.0,2.5l-2.0,2.5l-2.0,-2.5z" fill="none" stroke="#000" stroke-width="0.95"/><path d="M507.9,137.1l2.0,2.5l-2.0,2.5l-2.0,-2.5z" fill="none" stroke="#000" stroke-width="0.95"/><circle cx="502.3" cy="142.8" r="1.5" fill="none" stroke="#7a7a7a" stroke-width="0.9"/><circle cx="513.5" cy="141.0" r="2.45"/><path d="M488.9,140.6l2.0,2.5l-2.0,2.5l-2.0,-2.5z" fill="none" stroke="#000" stroke-width="0.95"/><path d="M488.9,144.6l2.0,2.5l-2.0,2.5l-2.0,-2.5z" fill="none" stroke="#000" stroke-width="0.95"/><path d="M488.9,148.7l2.0,2.5l-2.0,2.5l-2.0,-2.5z" fill="none" stroke="#000" stroke-width="0.95"/><circle cx="494.6" cy="150.4" r="2.45"/><path d="M498.1,144.6l2.0,2.5l-2.0,2.5l-2.0,-2.5z" fill="none" stroke="#000" stroke-width="0.95"/><circle cx="499.7" cy="148.8" r="2.45"/><circle cx="505.6" cy="148.8" r="2.45"/><path d="M520.5,152.9l2.0,2.5l-2.0,2.5l-2.0,-2.5z" fill="none" stroke="#000" stroke-width="0.95"/><path d="M503.9,154.8l2.0,2.5l-2.0,2.5l-2.0,-2.5z" fill="none" stroke="#000" stroke-width="0.95"/><circle cx="502.3" cy="160.1" r="2.45"/><path d="M509.1,158.7l2.0,2.5l-2.0,2.5l-2.0,-2.5z" fill="none" stroke="#000" stroke-width="0.95"/><circle cx="492.9" cy="160.6" r="2.45"/><circle cx="491.0" cy="163.8" r="2.45"/><circle cx="483.3" cy="165.2" r="2.45"/><path d="M503.5,164.3l2.0,2.5l-2.0,2.5l-2.0,-2.5z" fill="none" stroke="#000" stroke-width="0.95"/><circle cx="485.2" cy="176.6" r="2.45"/><circle cx="532.6" cy="145.0" r="1.5" fill="none" stroke="#7a7a7a" stroke-width="0.9"/><circle cx="532.6" cy="149.6" r="2.45"/><circle cx="535.4" cy="149.6" r="2.45"/><path d="M549.9,144.6l2.0,2.5l-2.0,2.5l-2.0,-2.5z" fill="none" stroke="#000" stroke-width="0.95"/><path d="M545.6,152.2l2.0,2.5l-2.0,2.5l-2.0,-2.5z" fill="none" stroke="#000" stroke-width="0.95"/><path d="M554.3,158.7l2.0,2.5l-2.0,2.5l-2.0,-2.5z" fill="none" stroke="#000" stroke-width="0.95"/><path d="M554.8,163.2l2.0,2.5l-2.0,2.5l-2.0,-2.5z" fill="none" stroke="#000" stroke-width="0.95"/><path d="M537.5,161.3l2.0,2.5l-2.0,2.5l-2.0,-2.5z" fill="none" stroke="#000" stroke-width="0.95"/><path d="M545.6,166.5l2.0,2.5l-2.0,2.5l-2.0,-2.5z" fill="none" stroke="#000" stroke-width="0.95"/><circle cx="539.7" cy="168.7" r="2.45"/><path d="M537.0,168.9l2.0,2.5l-2.0,2.5l-2.0,-2.5z" fill="none" stroke="#000" stroke-width="0.95"/><path d="M531.1,169.7l2.0,2.5l-2.0,2.5l-2.0,-2.5z" fill="none" stroke="#000" stroke-width="0.95"/><path d="M549.9,172.0l2.0,2.5l-2.0,2.5l-2.0,-2.5z" fill="none" stroke="#000" stroke-width="0.95"/><path d="M555.0,172.0l2.0,2.5l-2.0,2.5l-2.0,-2.5z" fill="none" stroke="#000" stroke-width="0.95"/><path d="M545.7,181.1l2.0,2.5l-2.0,2.5l-2.0,-2.5z" fill="none" stroke="#000" stroke-width="0.95"/><path d="M555.4,184.6l2.0,2.5l-2.0,2.5l-2.0,-2.5z" fill="none" stroke="#000" stroke-width="0.95"/><path d="M555.0,188.5l2.0,2.5l-2.0,2.5l-2.0,-2.5z" fill="none" stroke="#000" stroke-width="0.95"/><path d="M545.7,189.3l2.0,2.5l-2.0,2.5l-2.0,-2.5z" fill="none" stroke="#000" stroke-width="0.95"/><circle cx="554.6" cy="195.7" r="2.45"/><circle cx="561.8" cy="206.0" r="2.45"/><circle cx="595.5" cy="167.0" r="2.45"/></g>
<line x1="66.3" y1="125.4" x2="66.3" y2="208.8" stroke="#ff0000" stroke-width="1.3"/><path d="M62.8,204.2 L66.3,212.8 L69.8,204.2 L66.3,207.6 Z" fill="#ff0000" stroke="#ff0000" stroke-width="0.4" stroke-linejoin="round"/>
<line x1="517.3" y1="105.9" x2="517.3" y2="208.8" stroke="#ff0000" stroke-width="1.3"/><path d="M513.8,204.2 L517.3,212.8 L520.8,204.2 L517.3,207.6 Z" fill="#ff0000" stroke="#ff0000" stroke-width="0.4" stroke-linejoin="round"/>
<text x="459.5" y="206" fill="#ff0000" style="stroke:#ff0000" font-weight="bold" font-size="11" font-family="Liberation Sans, sans-serif">Threshold</text>
<g font-family="Liberation Sans, sans-serif" font-size="10.5" fill="#000"><text x="36.5" y="229" text-anchor="middle">0</text><text x="97.0" y="229" text-anchor="middle">1</text><text x="157.5" y="229" text-anchor="middle">2</text><text x="217.9" y="229" text-anchor="middle">3</text><text x="278.4" y="229" text-anchor="middle">4</text><text x="34" y="219.7" text-anchor="end">0</text><text x="34" y="177.4" text-anchor="end">0.1</text><text x="34" y="135.1" text-anchor="end">0.2</text><text x="34" y="92.8" text-anchor="end">0.3</text><text x="34" y="50.5" text-anchor="end">0.4</text><text x="34" y="8.2" text-anchor="end">0.5</text><text x="388.2" y="229" text-anchor="middle">0.001</text><text x="436.2" y="229" text-anchor="middle">0.01</text><text x="484.2" y="229" text-anchor="middle">0.1</text><text x="532.2" y="229" text-anchor="middle">1</text><text x="580.2" y="229" text-anchor="middle">10</text><text x="345" y="220.4" text-anchor="end">0.001</text><text x="345" y="173.2" text-anchor="end">0.01</text><text x="345" y="125.9" text-anchor="end">0.1</text><text x="345" y="78.7" text-anchor="end">1</text><text x="345" y="31.4" text-anchor="end">10</text></g>
<g font-family="Liberation Sans, sans-serif" font-size="11.25" fill="#000"><text x="163.3" y="244.6" text-anchor="middle">Nitrogen concentration (mg N L<tspan dy="-5.6" font-size="7.8">-1</tspan><tspan dy="5.6">)</tspan></text><text x="474.8" y="244.6" text-anchor="middle">Nitrogen concentration (mg N L<tspan dy="-5.6" font-size="7.8">-1</tspan><tspan dy="5.6">)</tspan></text><text transform="translate(12.8,109.6) rotate(-90)" text-anchor="middle">Nitrogen uptake velocity (m d<tspan dy="-5.6" font-size="7.8">-1</tspan><tspan dy="5.6">)</tspan></text><text transform="translate(312.4,109.6) rotate(-90)" text-anchor="middle">Nitrogen uptake velocity (m d<tspan dy="-5.6" font-size="7.8">-1</tspan><tspan dy="5.6">)</tspan></text></g>
<text x="50.3" y="18.6" font-weight="bold" font-size="12.3" font-family="Liberation Sans, sans-serif">a</text>
<text x="356.6" y="21.8" font-weight="bold" font-size="12.3" font-family="Liberation Sans, sans-serif">b</text>
<rect x="105.5" y="8.3" width="181.1" height="81.7" fill="#fff" stroke="#9a9a9a" stroke-width="1"/><text x="137" y="19.2" font-size="9.5" font-family="Liberation Sans, sans-serif">USGS (measured denitrification)</text><text x="137" y="30.3" font-size="9.5" font-family="Liberation Sans, sans-serif">LINX II (measured denitrification)</text><text x="137" y="41.4" font-size="9.5" font-family="Liberation Sans, sans-serif">LINX II (measured short-term total)</text><text x="137" y="52.5" font-size="9.5" font-family="Liberation Sans, sans-serif">Base model (first-order)</text><text x="137" y="63.6" font-size="9.5" font-family="Liberation Sans, sans-serif">Regional saturation model</text><text x="137" y="74.7" font-size="9.5" font-family="Liberation Sans, sans-serif">Michaelis-Menten saturation model</text><text x="137" y="85.8" font-size="9.5" font-family="Liberation Sans, sans-serif">Power-law saturation model</text><path d="M122.2,13.4 l2.0,2.4 l-2.0,2.4 l-2.0,-2.4 Z" fill="none" stroke="#000" stroke-width="1"/><circle cx="122.2" cy="26.9" r="2.3" fill="#000"/><circle cx="122.2" cy="38.0" r="1.9" fill="none" stroke="#777" stroke-width="0.8"/><line x1="110.5" y1="49.1" x2="134" y2="49.1" stroke="#c4c4c4" stroke-width="2.0"/><line x1="110.5" y1="60.3" x2="134" y2="60.3" stroke="#ff0000" stroke-width="4.9"/><line x1="110.5" y1="71.6" x2="134" y2="71.6" stroke="#cc0000" stroke-width="2.2"/><line x1="110.5" y1="82.9" x2="134" y2="82.9" stroke="#8b0000" stroke-width="1.4"/></svg>
</body></html>
